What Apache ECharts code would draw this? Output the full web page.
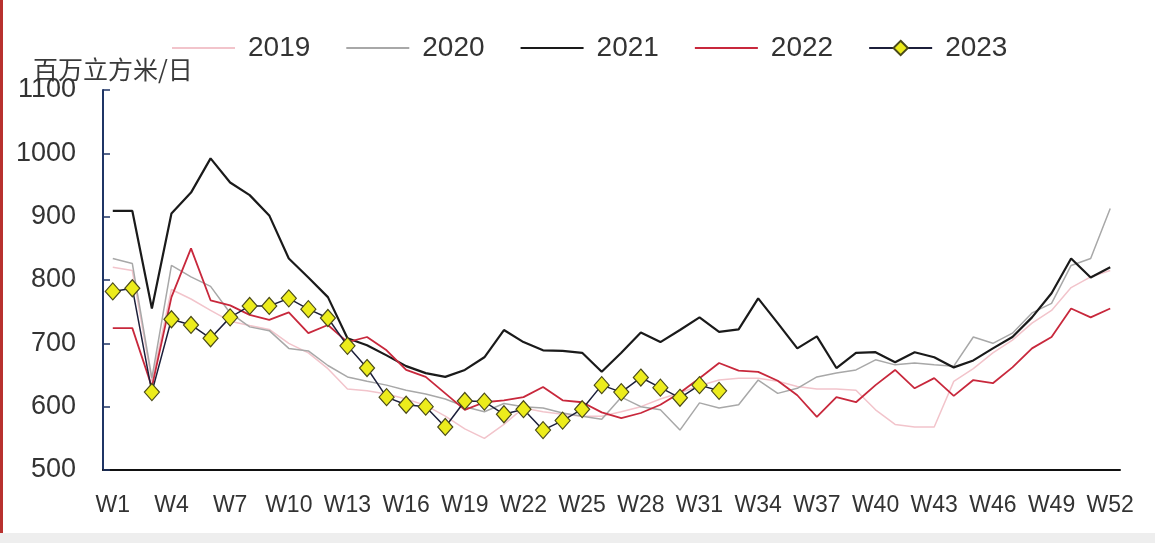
<!DOCTYPE html>
<html>
<head>
<meta charset="utf-8">
<script src="https://cdn.jsdelivr.net/npm/echarts@6/dist/echarts.min.js"></script>
<style>
  html, body { margin: 0; padding: 0; background: #ffffff; }
  #chart { width: 1155px; height: 543px; }
</style>
</head>
<body>
<div id="chart"></div>
<script>
// Weekly volumes, million cubic metres per day
const weeks = Array.from({ length: 52 }, (_, i) => 'W' + (i + 1));

const y2019 = [820, 815, 640, 785, 770, 752, 735, 728, 722, 700, 685, 660, 628, 625, 620, 612, 602, 585, 565, 550,
  572, 598, 592, 588, 585, 585, 592, 600, 612, 622, 633, 642, 645, 645, 640, 632, 628, 628, 626, 595,
  572, 568, 568, 640, 660, 685, 705, 732, 752, 788, 805, 815];

const y2020 = [834, 826, 645, 823, 805, 790, 748, 726, 720, 692, 688, 665, 647, 640, 634, 626, 620, 612, 600, 592,
  605, 600, 598, 590, 585, 580, 615, 600, 595, 563, 606, 598, 603, 642, 621, 629, 647, 653, 658, 674,
  666, 669, 666, 664, 710, 700, 716, 748, 763, 823, 834, 913];

const y2021 = [909, 909, 755, 905, 938, 992, 954, 934, 902, 834, 804, 773, 708, 697, 681, 664, 653, 647, 658, 678,
  721, 702, 689, 688, 685, 655, 685, 717, 702, 721, 741, 718, 722, 771, 732, 692, 711, 661, 685, 686,
  670, 686, 678, 662, 673, 692, 710, 741, 779, 834, 804, 820];

const y2022 = [724, 724, 631, 773, 850, 768, 760, 745, 737, 749, 716, 729, 702, 710, 689, 658, 647, 621, 595, 607,
  610, 615, 631, 610, 607, 591, 582, 590, 603, 622, 645, 669, 657, 655, 641, 618, 584, 615, 607, 634,
  658, 629, 645, 617, 642, 637, 662, 692, 710, 755, 741, 755];

const y2023 = [782, 787, 623, 738, 729, 708, 741, 759, 759, 771, 754, 740, 696, 661, 615, 603, 600, 568, 609, 608,
  588, 596, 563, 578, 596, 634, 623, 646, 630, 614, 634, 625];

const yTicks = { min: 500, max: 1100, step: 100 };
const unitLabel = '百万立方米/日';

const FONT = '"Liberation Sans", Arial, sans-serif';

const chart = echarts.init(document.getElementById('chart'), null, { renderer: 'canvas' });

function plain(name, data, color, width) {
  return {
    name, type: 'line', data,
    symbol: 'none', smooth: false,
    lineStyle: { color, width },
    itemStyle: { color },
    emphasis: { disabled: true },
    animation: false
  };
}

// plain lines get a bare stroke in the legend, no dot
const lineOnly = { itemStyle: { opacity: 0 } };

chart.setOption({
  backgroundColor: '#ffffff',
  animation: false,
  textStyle: { fontFamily: FONT },
  graphic: [
    { type: 'rect', left: 0, top: 0, shape: { width: 3, height: 543 }, style: { fill: '#b8312f' }, silent: true },
    { type: 'rect', left: 0, top: 533, shape: { width: 1155, height: 10 }, style: { fill: '#eeeeee' }, silent: true },
    {
      type: 'text', left: 33, top: 57,
      style: { text: unitLabel, font: '25px "Noto Sans CJK SC", sans-serif', fill: '#3a3a3a' },
      silent: true
    }
  ],
  legend: {
    left: 166, top: 29,
    itemWidth: 63, itemHeight: 18, itemGap: 35,
    textStyle: { fontSize: 28, color: '#333333', fontFamily: FONT, padding: [0, 0, 0, 8] },
    data: [
      Object.assign({ name: '2019' }, lineOnly),
      Object.assign({ name: '2020' }, lineOnly),
      Object.assign({ name: '2021' }, lineOnly),
      Object.assign({ name: '2022' }, lineOnly),
      { name: '2023' }
    ]
  },
  grid: { left: 103, right: 35, top: 90, bottom: 73, containLabel: false },
  xAxis: {
    type: 'category',
    data: weeks,
    boundaryGap: true,
    axisLine: { lineStyle: { color: '#111111', width: 2 } },
    axisTick: { inside: true, length: 7, interval: 0, lineStyle: { color: '#111111', width: 1.5 } },
    axisLabel: { interval: 2, margin: 24, fontSize: 23, color: '#333333', fontFamily: FONT },
    splitLine: { show: false }
  },
  yAxis: {
    type: 'value',
    min: yTicks.min, max: yTicks.max, interval: yTicks.step,
    axisLine: { show: true, lineStyle: { color: '#1f3566', width: 2 } },
    axisTick: { show: true, inside: true, length: 7, lineStyle: { color: '#1f3566', width: 1.5 } },
    axisLabel: { margin: 27, fontSize: 27, color: '#333333', fontFamily: FONT, formatter: v => String(v) },
    splitLine: { show: false }
  },
  series: [
    plain('2019', y2019, '#f2c4cb', 1.5),
    plain('2020', y2020, '#a8a8a8', 1.5),
    plain('2021', y2021, '#1a1a1a', 2.2),
    plain('2022', y2022, '#c8283c', 1.8),
    {
      name: '2023', type: 'line', data: y2023,
      symbol: 'diamond', symbolSize: [15, 17], showAllSymbol: true,
      lineStyle: { color: '#1c1f3a', width: 1.5 },
      itemStyle: { color: '#ecec1c', borderColor: '#4a4a1a', borderWidth: 1.2 },
      emphasis: { disabled: true },
      animation: false,
      z: 5
    }
  ]
});
</script>
</body>
</html>
